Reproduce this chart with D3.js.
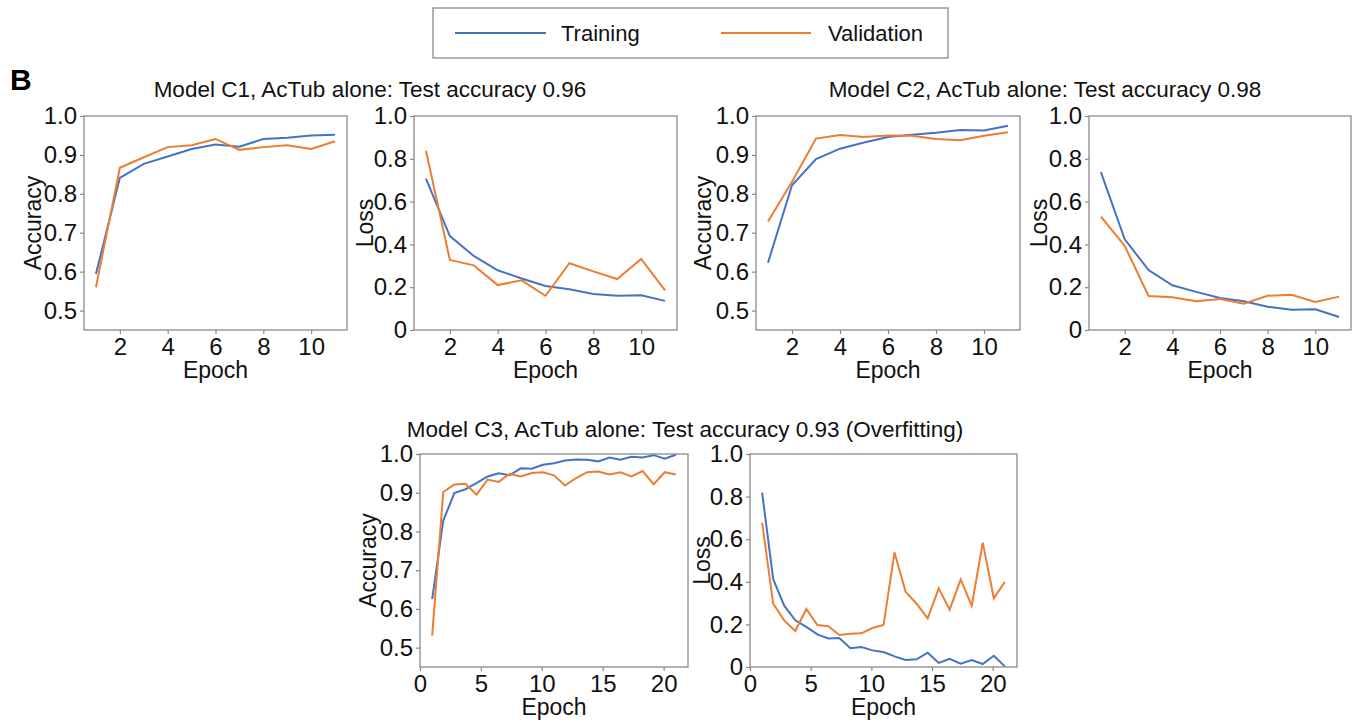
<!DOCTYPE html>
<html>
<head>
<meta charset="utf-8">
<script src="https://cdn.jsdelivr.net/npm/d3@7"></script>
<style>
  body { margin: 0; background: #fff; }
  svg { font-family: "Liberation Sans", Arial, sans-serif; }
</style>
</head>
<body>
<svg id="chart" width="1356" height="725"></svg>
<script>
// epochs
const epochsC12 = [1, 2, 3, 4, 5, 6, 7, 8, 9, 10, 11];
const epochsC3 = [1.00, 1.91, 2.82, 3.73, 4.64, 5.55, 6.45, 7.36, 8.27, 9.18, 10.09, 11.00,
  11.91, 12.82, 13.73, 14.64, 15.55, 16.45, 17.36, 18.27, 19.18, 20.09, 21.00];

// Model C1
const c1AccTrain = [0.594, 0.841, 0.877, 0.896, 0.915, 0.927, 0.921, 0.941, 0.944, 0.950, 0.952];
const c1AccVal = [0.560, 0.867, 0.894, 0.920, 0.925, 0.941, 0.913, 0.920, 0.925, 0.915, 0.935];
const c1LossTrain = [0.707, 0.439, 0.346, 0.279, 0.241, 0.206, 0.190, 0.168, 0.160, 0.162, 0.136];
const c1LossVal = [0.838, 0.327, 0.302, 0.210, 0.232, 0.160, 0.312, 0.274, 0.238, 0.332, 0.185];

// Model C2
const c2AccTrain = [0.623, 0.822, 0.889, 0.916, 0.932, 0.946, 0.952, 0.957, 0.964, 0.963, 0.975];
const c2AccVal = [0.729, 0.831, 0.942, 0.951, 0.946, 0.950, 0.949, 0.941, 0.938, 0.949, 0.958];
const c2LossTrain = [0.738, 0.424, 0.280, 0.209, 0.178, 0.150, 0.134, 0.109, 0.095, 0.097, 0.061];
const c2LossVal = [0.530, 0.393, 0.159, 0.153, 0.134, 0.145, 0.123, 0.160, 0.165, 0.131, 0.156];

// Model C3
const c3AccTrain = [0.625, 0.828, 0.899, 0.909, 0.925, 0.942, 0.950, 0.945, 0.963, 0.962, 0.972, 0.976,
  0.983, 0.986, 0.985, 0.981, 0.991, 0.985, 0.993, 0.991, 0.997, 0.988, 0.998];
const c3AccVal = [0.531, 0.902, 0.921, 0.923, 0.895, 0.934, 0.928, 0.949, 0.942, 0.951, 0.953, 0.945,
  0.919, 0.938, 0.953, 0.955, 0.947, 0.953, 0.942, 0.956, 0.922, 0.953, 0.947];
const c3LossTrain = [0.819, 0.412, 0.288, 0.219, 0.188, 0.153, 0.134, 0.136, 0.088, 0.094, 0.078, 0.070,
  0.050, 0.033, 0.036, 0.067, 0.019, 0.038, 0.016, 0.033, 0.014, 0.053, 0.003];
const c3LossVal = [0.678, 0.297, 0.219, 0.169, 0.272, 0.197, 0.191, 0.150, 0.156, 0.158, 0.183, 0.197,
  0.538, 0.353, 0.297, 0.228, 0.369, 0.269, 0.411, 0.288, 0.584, 0.322, 0.400];

// ticks
const accTicks = [0.5, 0.6, 0.7, 0.8, 0.9, 1.0];
const lossTicks = [0, 0.2, 0.4, 0.6, 0.8, 1.0];
const epochTicksC12 = [2, 4, 6, 8, 10];
const epochTicksC3 = [0, 5, 10, 15, 20];

const titles = [
  "Model C1, AcTub alone: Test accuracy 0.96",
  "Model C2, AcTub alone: Test accuracy 0.98",
  "Model C3, AcTub alone: Test accuracy 0.93 (Overfitting)"
];
const seriesNames = ["Training", "Validation"];

const blue = "#4472C4";
const orange = "#ED7D31";
const frameColor = "#8a8a8a";
const tickFs = 24;   // tick labels
const labFs = 23;    // axis labels
const titleFs = 22.5;

const svg = d3.select("#chart");

function drawPanel(p) {
  const g = svg.append("g").attr("transform", `translate(${p.left},${p.top})`);
  const x = d3.scaleLinear().domain(p.xDomain).range([0, p.w]);
  const y = d3.scaleLinear().domain(p.yDomain).range([p.h, 0]);

  const yAxis = d3.axisLeft(y).tickValues(p.yTicks).tickSize(4).tickPadding(3)
    .tickFormat(d => d === 0 ? "0" : d3.format(".1f")(d));
  const xAxis = d3.axisBottom(x).tickValues(p.xTicks).tickSize(4).tickPadding(4)
    .tickFormat(d3.format("d"));

  const ya = g.append("g").call(yAxis);
  const xa = g.append("g").attr("transform", `translate(0,${p.h})`).call(xAxis);
  [ya, xa].forEach(a => {
    a.select(".domain").remove();
    a.selectAll("line").attr("stroke", frameColor).attr("stroke-width", 1.2);
    a.selectAll("text").attr("fill", "#111").style("font-size", tickFs + "px")
      .style("font-family", "'Liberation Sans', Arial, sans-serif");
  });

  g.append("rect")
    .attr("width", p.w).attr("height", p.h)
    .attr("fill", "none").attr("stroke", frameColor).attr("stroke-width", 1.3);

  const line = d3.line().x((d, i) => x(p.xs[i])).y(d => y(d));
  g.append("path").datum(p.train).attr("d", line)
    .attr("fill", "none").attr("stroke", blue).attr("stroke-width", 2);
  g.append("path").datum(p.val).attr("d", line)
    .attr("fill", "none").attr("stroke", orange).attr("stroke-width", 2);

  g.append("text")
    .attr("transform", `translate(${p.ylabOff},${p.h / 2}) rotate(-90)`)
    .attr("text-anchor", "middle").attr("dy", "0.35em")
    .style("font-size", labFs + "px").attr("fill", "#111")
    .text(p.ylabel);
  g.append("text")
    .attr("x", p.w / 2).attr("y", p.h + 48)
    .attr("text-anchor", "middle")
    .style("font-size", labFs + "px").attr("fill", "#111")
    .text("Epoch");
}

const h1 = 214, h2 = 213;
const accDomain = [0.45, 1.0];
const lossDomain = [0, 1.0];

drawPanel({ left: 84, top: 116, w: 263, h: h1, xDomain: [0.5, 11.5], yDomain: accDomain,
  xTicks: epochTicksC12, yTicks: accTicks, xs: epochsC12, train: c1AccTrain, val: c1AccVal,
  ylabel: "Accuracy", ylabOff: -51 });
drawPanel({ left: 414, top: 116, w: 263, h: h1, xDomain: [0.5, 11.5], yDomain: lossDomain,
  xTicks: epochTicksC12, yTicks: lossTicks, xs: epochsC12, train: c1LossTrain, val: c1LossVal,
  ylabel: "Loss", ylabOff: -49 });
drawPanel({ left: 756, top: 116, w: 264, h: h1, xDomain: [0.5, 11.5], yDomain: accDomain,
  xTicks: epochTicksC12, yTicks: accTicks, xs: epochsC12, train: c2AccTrain, val: c2AccVal,
  ylabel: "Accuracy", ylabOff: -53 });
drawPanel({ left: 1089, top: 116, w: 262, h: h1, xDomain: [0.5, 11.5], yDomain: lossDomain,
  xTicks: epochTicksC12, yTicks: lossTicks, xs: epochsC12, train: c2LossTrain, val: c2LossVal,
  ylabel: "Loss", ylabOff: -50 });
drawPanel({ left: 420, top: 454, w: 268, h: h2, xDomain: [0, 22], yDomain: accDomain,
  xTicks: epochTicksC3, yTicks: accTicks, xs: epochsC3, train: c3AccTrain, val: c3AccVal,
  ylabel: "Accuracy", ylabOff: -52 });
drawPanel({ left: 750, top: 454, w: 267, h: h2, xDomain: [0, 22], yDomain: lossDomain,
  xTicks: epochTicksC3, yTicks: lossTicks, xs: epochsC3, train: c3LossTrain, val: c3LossVal,
  ylabel: "Loss", ylabOff: -48 });

// titles
const titlePos = [[370, 97], [1045, 97], [685, 437]];
titles.forEach((t, i) => {
  svg.append("text")
    .attr("x", titlePos[i][0]).attr("y", titlePos[i][1])
    .attr("text-anchor", "middle")
    .style("font-size", titleFs + "px").attr("fill", "#111")
    .text(t);
});

// panel letter
svg.append("text").attr("x", 10).attr("y", 90)
  .style("font-size", "30px").style("font-weight", "bold").attr("fill", "#000")
  .text("B");

// legend
const leg = svg.append("g");
leg.append("rect").attr("x", 433).attr("y", 8).attr("width", 515).attr("height", 50)
  .attr("fill", "#fff").attr("stroke", frameColor).attr("stroke-width", 1.3);
const legItems = [
  { name: seriesNames[0], color: blue, x0: 455, x1: 546, tx: 561 },
  { name: seriesNames[1], color: orange, x0: 721, x1: 811, tx: 828 }
];
legItems.forEach(d => {
  leg.append("line").attr("x1", d.x0).attr("x2", d.x1).attr("y1", 33).attr("y2", 33)
    .attr("stroke", d.color).attr("stroke-width", 2);
  leg.append("text").attr("x", d.tx).attr("y", 41)
    .style("font-size", "22px").attr("fill", "#111").text(d.name);
});
</script>
</body>
</html>
